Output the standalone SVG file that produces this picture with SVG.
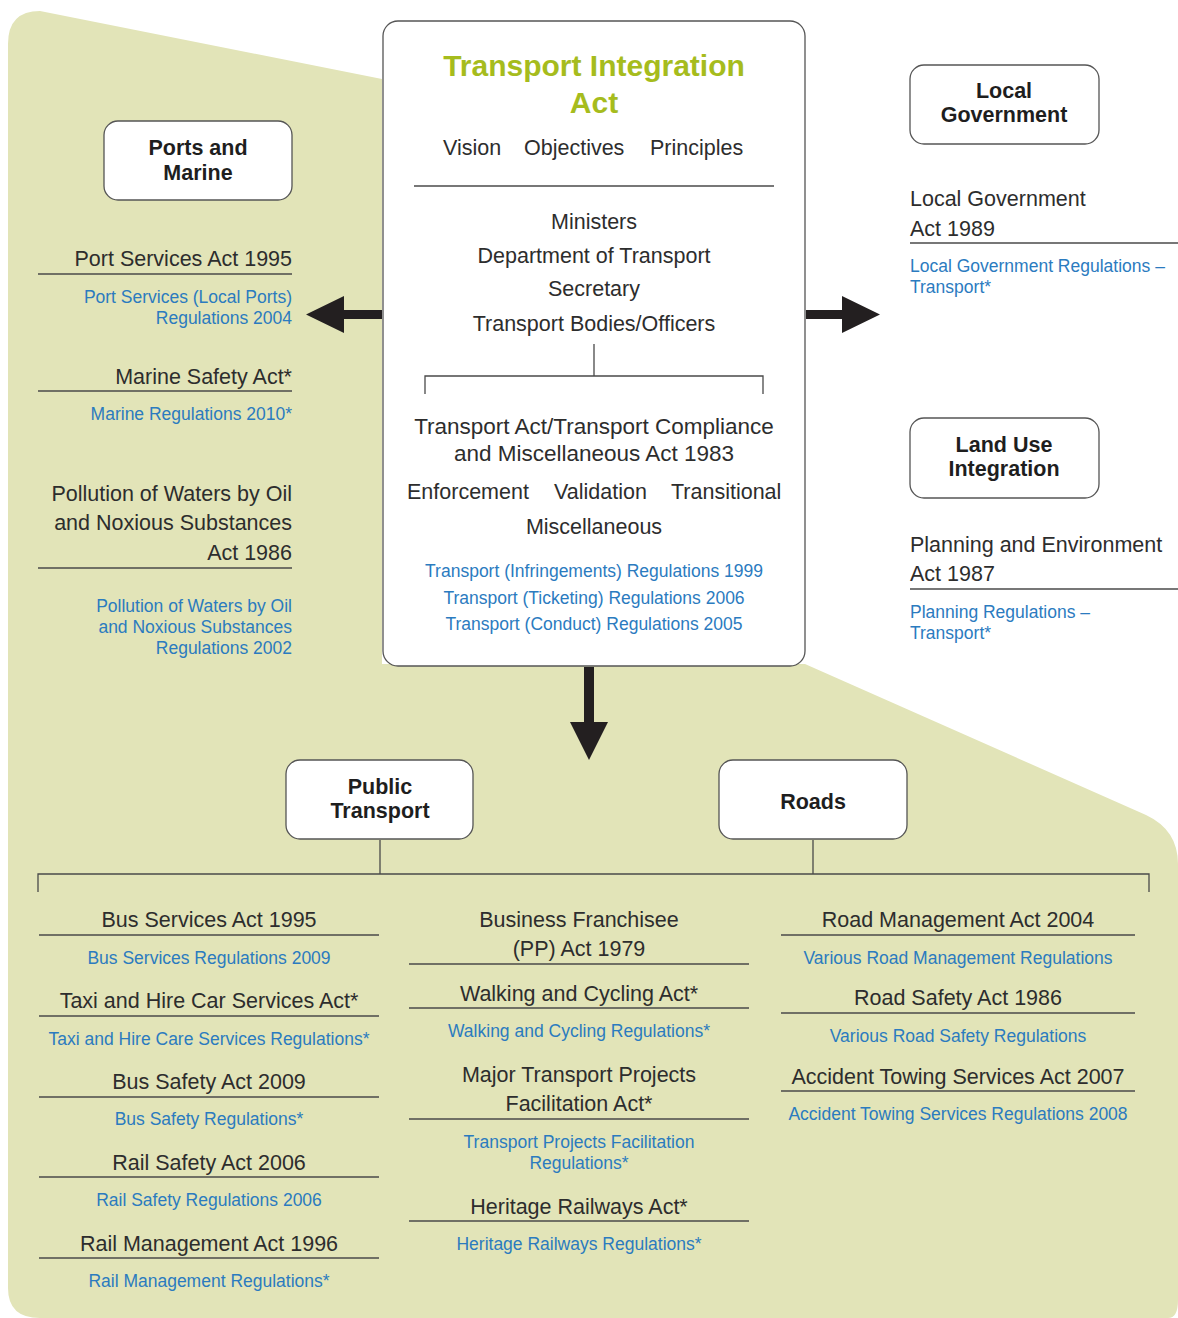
<svg xmlns="http://www.w3.org/2000/svg" width="1178" height="1318" viewBox="0 0 1178 1318">
<style>
text{font-family:"Liberation Sans",Arial,sans-serif;fill:#2d2d2d}
.t{font-size:21.5px}
.b{font-size:17.5px;fill:#2b7bbf}
.h{font-size:21.5px;font-weight:bold;fill:#1e1e1e;text-anchor:middle}
.c{text-anchor:middle}
.r{text-anchor:end}
.box{fill:#fff;stroke:#555;stroke-width:1.3}
.ln{stroke:#4a4a4a;stroke-width:1.3;fill:none}
.ar{fill:#231f20}
</style>
<rect width="1178" height="1318" fill="#fff"/>
<path d="M8,44 Q8,11 40,11 L382,79 L382,664 L805,664 L1146,815 Q1178,830 1178,864 L1178,1300 Q1178,1318 1168,1318 L40,1318 Q8,1318 8,1288 Z" fill="#e2e4b8"/>

<g id="connectors">
<path class="ar" d="M382,310 L344,310 L344,296 L306,314.5 L344,333 L344,319 L382,319 Z"/>
<path class="ar" d="M806,310 L842,310 L842,296 L880,314.5 L842,333 L842,319 L806,319 Z"/>
<path class="ar" d="M584,667 L594,667 L594,722 L608,722 L589,760 L570,722 L584,722 Z"/>
<path class="ln" d="M380,840 V874 M813,840 V874 M38,892 V874 H1149 V892"/>
</g>

<g id="tia">
<rect class="box" x="383" y="21" width="422" height="645" rx="15"/>
<text class="c" x="594" y="76" style="font-size:30px;font-weight:bold;fill:#a6bc1d">Transport Integration</text>
<text class="c" x="594" y="113" style="font-size:30px;font-weight:bold;fill:#a6bc1d">Act</text>
<text class="t" x="443" y="155">Vision</text>
<text class="t" x="524" y="155">Objectives</text>
<text class="t" x="650" y="155">Principles</text>
<line class="ln" x1="414" y1="186" x2="774" y2="186"/>
<text class="t c" x="594" y="229">Ministers</text>
<text class="t c" x="594" y="263">Department of Transport</text>
<text class="t c" x="594" y="296">Secretary</text>
<text class="t c" x="594" y="331">Transport Bodies/Officers</text>
<path class="ln" d="M594,344 V376 M425,394 V376 H763 V394"/>
<text class="c" x="594" y="434" style="font-size:22.5px">Transport Act/Transport Compliance</text>
<text class="c" x="594" y="461" style="font-size:22.5px">and Miscellaneous Act 1983</text>
<text class="t" x="407" y="499">Enforcement</text>
<text class="t" x="554" y="499">Validation</text>
<text class="t" x="671" y="499">Transitional</text>
<text class="t c" x="594" y="534">Miscellaneous</text>
<text class="b c" x="594" y="577">Transport (Infringements) Regulations 1999</text>
<text class="b c" x="594" y="604">Transport (Ticketing) Regulations 2006</text>
<text class="b c" x="594" y="630">Transport (Conduct) Regulations 2005</text>
</g>

<g id="ports">
<rect class="box" x="104" y="121" width="188" height="79" rx="14"/>
<text class="h" x="198" y="155">Ports and</text>
<text class="h" x="198" y="180">Marine</text>
<text class="t r" x="292" y="266">Port Services Act 1995</text>
<line class="ln" x1="38" y1="274" x2="292" y2="274"/>
<text class="b r" x="292" y="303">Port Services (Local Ports)</text>
<text class="b r" x="292" y="324">Regulations 2004</text>
<text class="t r" x="292" y="384">Marine Safety Act*</text>
<line class="ln" x1="38" y1="391" x2="292" y2="391"/>
<text class="b r" x="292" y="420">Marine Regulations 2010*</text>
<text class="t r" x="292" y="501">Pollution of Waters by Oil</text>
<text class="t r" x="292" y="530">and Noxious Substances</text>
<text class="t r" x="292" y="560">Act 1986</text>
<line class="ln" x1="38" y1="568" x2="292" y2="568"/>
<text class="b r" x="292" y="612">Pollution of Waters by Oil</text>
<text class="b r" x="292" y="633">and Noxious Substances</text>
<text class="b r" x="292" y="654">Regulations 2002</text>
</g>

<g id="localgov">
<rect class="box" x="910" y="65" width="189" height="79" rx="14"/>
<text class="h" x="1004" y="98">Local</text>
<text class="h" x="1004" y="122">Government</text>
<text class="t" x="910" y="206">Local Government</text>
<text class="t" x="910" y="236">Act 1989</text>
<line class="ln" x1="910" y1="243" x2="1178" y2="243"/>
<text class="b" x="910" y="272">Local Government Regulations –</text>
<text class="b" x="910" y="293">Transport*</text>
</g>

<g id="landuse">
<rect class="box" x="910" y="418" width="189" height="80" rx="14"/>
<text class="h" x="1004" y="452">Land Use</text>
<text class="h" x="1004" y="476">Integration</text>
<text class="t" x="910" y="552">Planning and Environment</text>
<text class="t" x="910" y="581">Act 1987</text>
<line class="ln" x1="910" y1="589" x2="1178" y2="589"/>
<text class="b" x="910" y="618">Planning Regulations –</text>
<text class="b" x="910" y="639">Transport*</text>
</g>

<g id="public-transport">
<rect class="box" x="286" y="760" width="187" height="79" rx="14"/>
<text class="h" x="380" y="794">Public</text>
<text class="h" x="380" y="818">Transport</text>
</g>

<g id="roads">
<rect class="box" x="719" y="760" width="188" height="79" rx="14"/>
<text class="h" x="813" y="809">Roads</text>
</g>

<g id="col-left">
<text class="t c" x="209" y="927">Bus Services Act 1995</text>
<line class="ln" x1="39" y1="935" x2="379" y2="935"/>
<text class="b c" x="209" y="964">Bus Services Regulations 2009</text>
<text class="t c" x="209" y="1008">Taxi and Hire Car Services Act*</text>
<line class="ln" x1="39" y1="1016" x2="379" y2="1016"/>
<text class="b c" x="209" y="1045">Taxi and Hire Care Services Regulations*</text>
<text class="t c" x="209" y="1089">Bus Safety Act 2009</text>
<line class="ln" x1="39" y1="1097" x2="379" y2="1097"/>
<text class="b c" x="209" y="1125">Bus Safety Regulations*</text>
<text class="t c" x="209" y="1170">Rail Safety Act 2006</text>
<line class="ln" x1="39" y1="1177" x2="379" y2="1177"/>
<text class="b c" x="209" y="1206">Rail Safety Regulations 2006</text>
<text class="t c" x="209" y="1251">Rail Management Act 1996</text>
<line class="ln" x1="39" y1="1258" x2="379" y2="1258"/>
<text class="b c" x="209" y="1287">Rail Management Regulations*</text>
</g>

<g id="col-mid">
<text class="t c" x="579" y="927">Business Franchisee</text>
<text class="t c" x="579" y="956">(PP) Act 1979</text>
<line class="ln" x1="409" y1="964" x2="749" y2="964"/>
<text class="t c" x="579" y="1001">Walking and Cycling Act*</text>
<line class="ln" x1="409" y1="1008" x2="749" y2="1008"/>
<text class="b c" x="579" y="1037">Walking and Cycling Regulations*</text>
<text class="t c" x="579" y="1082">Major Transport Projects</text>
<text class="t c" x="579" y="1111">Facilitation Act*</text>
<line class="ln" x1="409" y1="1119" x2="749" y2="1119"/>
<text class="b c" x="579" y="1148">Transport Projects Facilitation</text>
<text class="b c" x="579" y="1169">Regulations*</text>
<text class="t c" x="579" y="1214">Heritage Railways Act*</text>
<line class="ln" x1="409" y1="1221" x2="749" y2="1221"/>
<text class="b c" x="579" y="1250">Heritage Railways Regulations*</text>
</g>

<g id="col-right">
<text class="t c" x="958" y="927">Road Management Act 2004</text>
<line class="ln" x1="781" y1="935" x2="1135" y2="935"/>
<text class="b c" x="958" y="964">Various Road Management Regulations</text>
<text class="t c" x="958" y="1005">Road Safety Act 1986</text>
<line class="ln" x1="781" y1="1013" x2="1135" y2="1013"/>
<text class="b c" x="958" y="1042">Various Road Safety Regulations</text>
<text class="t c" x="958" y="1084">Accident Towing Services Act 2007</text>
<line class="ln" x1="781" y1="1091" x2="1135" y2="1091"/>
<text class="b c" x="958" y="1120">Accident Towing Services Regulations 2008</text>
</g>
</svg>
